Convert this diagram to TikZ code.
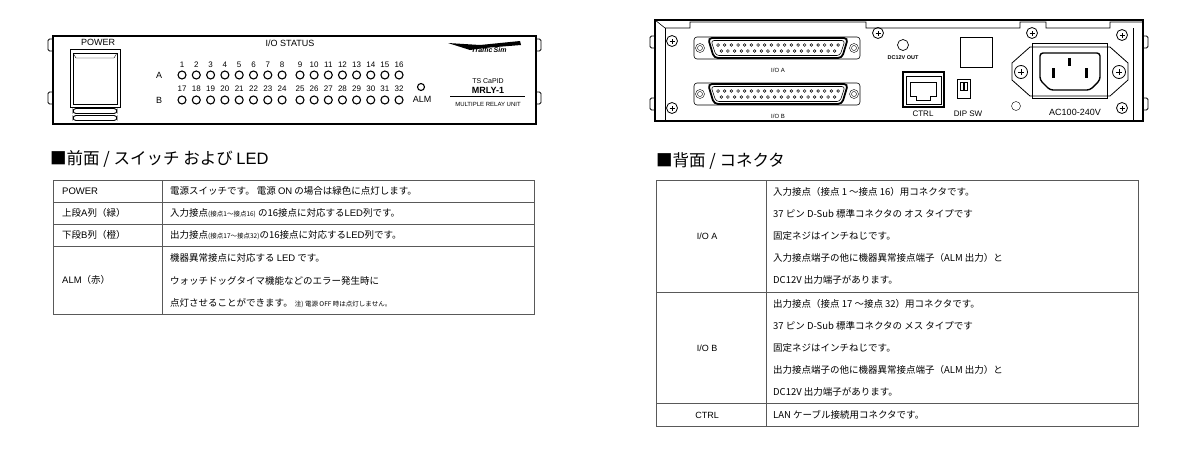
\documentclass[tikz,border=0pt]{standalone}
\usepackage{fontspec}
\setmainfont{Noto Sans CJK JP}
\newfontfamily\lat{Liberation Sans}
\begin{document}
\begin{tikzpicture}[x=1pt,y=-1pt,
  tb/.style={font=\fontsize{9.5}{11}\selectfont,anchor=west,inner sep=0},
  lb/.style={font=\lat\fontsize{9}{11}\selectfont,inner sep=0},
  led/.style={draw,line width=1.1pt,circle,minimum size=8pt,inner sep=0},
  num/.style={font=\lat\fontsize{8}{9}\selectfont,inner sep=0},
  scr/.style={draw,line width=0.8pt,circle,minimum size=11pt,inner sep=0},
  hd/.style={font=\fontsize{16.5}{18}\selectfont,anchor=west,inner sep=0}]
\useasboundingbox (0,0) rectangle (1200,456);
% ===== front panel =====
\draw[line width=1.2pt] (53,36) rectangle (536,124);
\foreach \y in {45,98}{
 \draw[line width=0.8pt,rounded corners=1.5pt] (53,\y-6) -- (48,\y-6) -- (48,\y+6) -- (53,\y+6);
 \draw[line width=0.8pt,rounded corners=1.5pt] (536,\y-6) -- (541,\y-6) -- (541,\y+6) -- (536,\y+6);}
\node[lb] (pw) at (98,42) {POWER};
\draw[line width=1pt] (70,49) rectangle (120,107);
\draw (73,53) rectangle (117,104);
\draw (73,53) -- (76,58) -- (114,58) -- (117,53);
\foreach \y in {111,118} \draw[line width=0.9pt,rounded corners=3pt] (73,\y-2.5) rectangle (117,\y+2.5);
\node[lb] (ios) at (290,43) {I/O STATUS};
\node[lb] (la) at (159,75) {A};
\node[lb] (lb) at (159,100) {B};
\foreach \i in {1,...,16}{
 \pgfmathsetmacro{\xx}{\i<9 ? 182+(\i-1)*14.3 : 300+(\i-9)*14.15}
 \node[led] (a\i) at (\xx,75) {};
 \node[led] (b\i) at (\xx,100) {};
 \node[num] at (\xx,65) {\i};
 \pgfmathtruncatemacro{\j}{\i+16}
 \node[num] at (\xx,89) {\j};}
\node[led,minimum size=7pt] (alm) at (421,87) {};
\node[lb] (almt) at (422,99) {ALM};
% logo
\fill (448,43) -- (480,45) -- (520,41) -- (521,45) -- (484,48) -- (470,50) -- cycle;
\node[font=\lat\bfseries\itshape\fontsize{7}{8}\selectfont,inner sep=0] (logo) at (489,50) {Traffic\,Sim};
\node[font=\lat\fontsize{7}{8}\selectfont,inner sep=0] (tsc) at (488,81) {TS CaPID};
\node[font=\lat\bfseries\fontsize{9}{10}\selectfont,inner sep=0] (mr) at (488,90) {MRLY-1};
\draw[line width=1pt] (450,96.5) -- (525,96.5);
\node[font=\lat\fontsize{6}{7}\selectfont,inner sep=0] (mu) at (488,104) {MULTIPLE RELAY UNIT};
% ===== front table =====
\node[hd] (h1) at (50,159) {■前面 / スイッチ および {\lat LED}};
\draw[line width=0.6pt,gray!70!black] (53,180) rectangle (534,314);
\foreach \y in {202,224,246} \draw[line width=0.6pt,gray!70!black] (53,\y) -- (534,\y);
\draw[line width=0.6pt,gray!70!black] (162,180) -- (162,314);
\node[tb] (p1) at (62,191) {{\lat POWER}};
\node[tb] (p2) at (62,213) {上段{\lat A}列（緑）};
\node[tb] (p3) at (62,235) {下段{\lat B}列（橙）};
\node[tb] (p4) at (62,280) {{\lat ALM}（赤）};
\node[tb] (d1) at (170,191) {電源スイッチです。 電源 {\lat ON} の場合は緑色に点灯します。};
\node[tb] (d2) at (170,213) {入力接点{\fontsize{6.5}{7}\selectfont (接点1〜接点16)} の16接点に対応する{\lat LED}列です。};
\node[tb] (d3) at (170,235) {出力接点{\fontsize{6.5}{7}\selectfont (接点17〜接点32)}の16接点に対応する{\lat LED}列です。};
\node[tb] (d4) at (170,258) {機器異常接点に対応する {\lat LED} です。};
\node[tb] (d5) at (170,281) {ウォッチドッグタイマ機能などのエラー発生時に};
\node[tb] (d6) at (170,303) {点灯させることができます。 {\fontsize{6.5}{7}\selectfont 注) 電源 OFF 時は点灯しません。}};
% ===== rear panel =====
\draw[line width=1.1pt] (655,20) rectangle (1143,121);
\foreach \y in {42,104}{
 \draw[line width=0.8pt,rounded corners=1.5pt] (655,\y-6) -- (650,\y-6) -- (650,\y+6) -- (655,\y+6);
 \draw[line width=0.8pt,rounded corners=1.5pt] (1143,\y-6) -- (1148,\y-6) -- (1148,\y+6) -- (1143,\y+6);}
\draw[line width=0.6pt] (655,20) -- (665,28) -- (690,28) -- (690,22) -- (866,22) -- (866,28) -- (1020,28) -- (1020,22) -- (1046,22) -- (1046,28) -- (1110,28) -- (1110,22) -- (1143,22);
\draw[line width=0.6pt] (665,28) -- (665,121);
\draw[line width=0.6pt] (1133,28) -- (1133,121);
\foreach \p/\n in {{672,41}/s1,{672,108}/s2,{1122,35}/s3,{1122,108}/s4,{878,33}/s5,{1032,33}/s6}{
 \node[scr] (\n) at (\p) {};
 \draw[line width=1pt] ([xshift=-2.5pt]\n.center) -- ([xshift=2.5pt]\n.center);
 \draw[line width=1pt] ([yshift=-2.5pt]\n.center) -- ([yshift=2.5pt]\n.center);}
% D-subs
\foreach \cy/\lbl/\nm in {48/I\slash O A/da,94/I\slash O B/db}{
 \draw[line width=0.6pt,rounded corners=3pt] (694,\cy-11) rectangle (860,\cy+11);
 \draw[line width=1.8pt,rounded corners=4pt] (708,\cy-10) -- (848,\cy-10) -- (842,\cy+10) -- (714,\cy+10) -- cycle;
 \draw[line width=0.6pt,rounded corners=3pt] (711,\cy-7.5) -- (845,\cy-7.5) -- (840,\cy+7.5) -- (716,\cy+7.5) -- cycle;
 \foreach \x in {700,854}{\draw (\x,\cy) circle (4.5); \draw (\x,\cy) circle (2.5);}
 \foreach \k in {0,...,18} \draw[line width=0.5pt] (718+\k*6.67,\cy-3) circle (1.4);
 \foreach \k in {0,...,17} \draw[line width=0.5pt] (721.3+\k*6.67,\cy+3) circle (1.4);
 \node[font=\lat\fontsize{6}{7}\selectfont,inner sep=0] (\nm) at (778,\cy+22) {\lbl};}
\node[draw,circle,line width=0.7pt,minimum size=11pt,inner sep=0] (dc) at (903,45) {};
\node[font=\lat\bfseries\fontsize{5.5}{6}\selectfont,inner sep=0] (dct) at (903,58) {DC12V OUT};
\draw[line width=0.7pt] (960,37) rectangle (992,67);
% CTRL
\draw[line width=1.4pt] (903,72) rectangle (944,107);
\draw (906,76) rectangle (941,104);
\draw[line width=0.7pt] (910,82) -- (936,82) -- (936,96) -- (930,96) -- (930,100) -- (916,100) -- (916,96) -- (910,96) -- cycle;
\node[font=\lat\fontsize{8}{9}\selectfont,inner sep=0] (ctrl) at (923,114) {CTRL};
% DIP
\draw[line width=0.8pt] (957,79) rectangle (970,98);
\draw (960,82) rectangle (963,90); \draw (964,82) rectangle (967,90);
\node[font=\lat\fontsize{8}{9}\selectfont,inner sep=0] (dip) at (968,114) {DIP SW};
% AC inlet
\draw[line width=0.8pt] (1012,63) -- (1030,47) -- (1110,47) -- (1128,63) -- (1128,80) -- (1110,96) -- (1030,96) -- (1012,80) -- cycle;
\draw[line width=0.7pt] (1032,43) rectangle (1107,98);
\draw[line width=1.4pt,rounded corners=3pt] (1040,53) -- (1100,53) -- (1100,80) -- (1090,90) -- (1050,90) -- (1040,80) -- cycle;
\fill (1052,68) rectangle (1055,78); \fill (1085,68) rectangle (1088,78); \fill (1068,58) rectangle (1071,66);
\foreach \x/\n in {1021/ac1,1119/ac2}{
 \node[scr,minimum size=13pt] (\n) at (\x,72) {};
 \draw[line width=1pt] ([xshift=-3pt]\n.center) -- ([xshift=3pt]\n.center);
 \draw[line width=1pt] ([yshift=-3pt]\n.center) -- ([yshift=3pt]\n.center);}
\node[draw,circle,minimum size=9pt,inner sep=0] (lamp) at (1016,106) {};
\node[font=\lat\fontsize{9}{10}\selectfont,inner sep=0] (ac) at (1075,112) {AC100-240V};
% ===== rear table =====
\node[hd] (h2) at (656,161) {■背面 / コネクタ};
\draw[line width=0.6pt,gray!70!black] (656,180) rectangle (1138,426);
\foreach \y in {292,403} \draw[line width=0.6pt,gray!70!black] (656,\y) -- (1138,\y);
\draw[line width=0.6pt,gray!70!black] (766,180) -- (766,426);
\node[lb] (ra) at (707,236) {I/O A};
\node[lb] (rb) at (707,348) {I/O B};
\node[lb] (rc) at (707,415) {CTRL};
\node[tb] (r1) at (773,192) {入力接点（接点 1 〜接点 16）用コネクタです。};
\node[tb] (r2) at (773,214) {37 ピン D-Sub 標準コネクタの オス タイプです};
\node[tb] (r3) at (773,236) {固定ネジはインチねじです。};
\node[tb] (r4) at (773,258) {入力接点端子の他に機器異常接点端子（ALM 出力）と};
\node[tb] (r5) at (773,280) {DC12V 出力端子があります。};
\node[tb] (q1) at (773,304) {出力接点（接点 17 〜接点 32）用コネクタです。};
\node[tb] (q2) at (773,326) {37 ピン D-Sub 標準コネクタの メス タイプです};
\node[tb] (q3) at (773,348) {固定ネジはインチねじです。};
\node[tb] (q4) at (773,370) {出力接点端子の他に機器異常接点端子（ALM 出力）と};
\node[tb] (q5) at (773,392) {DC12V 出力端子があります。};
\node[tb] (c1) at (773,415) {LAN ケーブル接続用コネクタです。};
\end{tikzpicture}
\end{document}
